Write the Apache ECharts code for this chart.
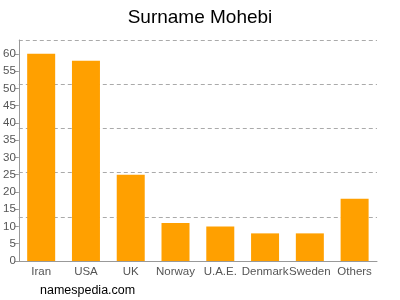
<!DOCTYPE html>
<html>
<head>
<meta charset="utf-8">
<script src="https://cdn.jsdelivr.net/npm/echarts@6/dist/echarts.min.js"></script>
<style>
  html, body { margin: 0; padding: 0; background: #fff; }
  #chart { width: 400px; height: 300px; }
</style>
</head>
<body>
<div id="chart"></div>
<script>
// data
const countries = ['Iran', 'USA', 'UK', 'Norway', 'U.A.E.', 'Denmark', 'Sweden', 'Others'];
const counts = [60, 58, 25, 11, 10, 8, 8, 18];
const yMax = 64;
const yStep = 5;
const gridStep = 12.8; // dashed lines split the axis in 5

let chart = echarts.init(document.getElementById('chart'));

const labelStyle = { color: '#555', fontSize: 11.5, fontFamily: 'Liberation Sans, Arial, sans-serif' };

chart.setOption({
    animation: false,
    title: {
        text: 'Surname Mohebi',
        left: 'center',
        top: 3,
        textStyle: { fontSize: 19, fontWeight: 'normal', color: '#000', fontFamily: 'Liberation Sans, Arial, sans-serif' }
    },
    graphic: [{
        type: 'text',
        left: 40,
        top: 284,
        style: { text: 'namespedia.com', fill: '#000', font: '12.5px Liberation Sans, Arial, sans-serif' }
    }],
    grid: { left: 17, right: 23, top: 40, bottom: 39 },
    xAxis: {
        type: 'category',
        data: countries,
        axisLine: { lineStyle: { color: '#999' } },
        axisTick: { lineStyle: { color: '#999' }, length: 4 },
        axisLabel: Object.assign({ margin: 5, interval: 0 }, labelStyle)
    },
    yAxis: [{
        type: 'value',
        min: 0,
        max: yMax,
        interval: yStep,
        axisLine: { show: true, lineStyle: { color: '#999' } },
        axisTick: { show: true, length: 4, lineStyle: { color: '#999' } },
        axisLabel: Object.assign({ margin: 3, showMaxLabel: false }, labelStyle),
        splitLine: { show: false }
    }, {
        type: 'value',
        min: 0,
        max: yMax,
        interval: gridStep,
        position: 'left',
        axisLine: { show: false },
        axisTick: { show: false },
        axisLabel: { show: false },
        splitLine: { show: true, lineStyle: { color: '#aaa', type: [4, 3] } }
    }],
    series: [{
        type: 'bar',
        data: counts,
        barWidth: 28,
        itemStyle: { color: '#ffa000' }
    }]
});
</script>
</body>
</html>
